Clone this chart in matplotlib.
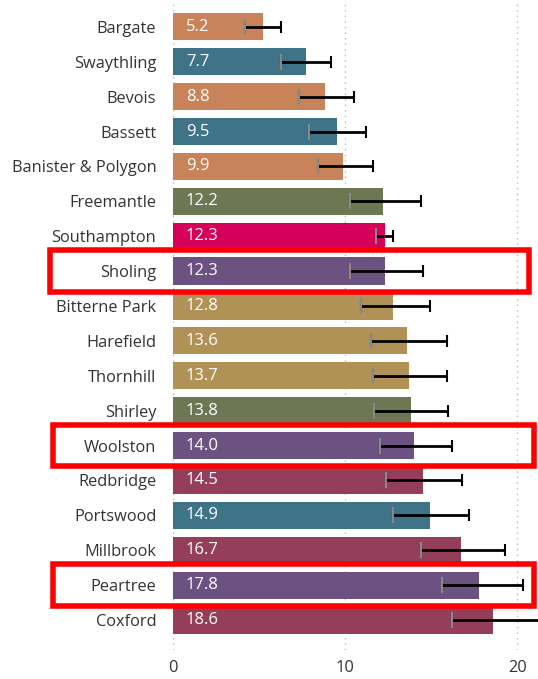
import matplotlib.pyplot as plt
from matplotlib.patches import Rectangle
import matplotlib.transforms as mtransforms

wards = ["Bargate", "Swaythling", "Bevois", "Bassett", "Banister & Polygon",
         "Freemantle", "Southampton", "Sholing", "Bitterne Park", "Harefield",
         "Thornhill", "Shirley", "Woolston", "Redbridge", "Portswood",
         "Millbrook", "Peartree", "Coxford"]
values = [5.2, 7.7, 8.8, 9.5, 9.9, 12.2, 12.3, 12.3, 12.8, 13.6,
          13.7, 13.8, 14.0, 14.5, 14.9, 16.7, 17.8, 18.6]
err_low = [4.2, 6.3, 7.3, 7.9, 8.4, 10.3, 11.8, 10.3, 10.9, 11.5,
           11.6, 11.7, 12.0, 12.4, 12.8, 14.4, 15.6, 16.2]
err_high = [6.3, 9.2, 10.5, 11.2, 11.6, 14.4, 12.8, 14.5, 14.9, 15.9,
            15.9, 16.0, 16.2, 16.8, 17.2, 19.3, 20.3, 21.6]
groups = ["orange", "teal", "orange", "teal", "orange", "olive", "pink", "purple",
          "gold", "gold", "gold", "olive", "purple", "maroon", "teal",
          "maroon", "purple", "maroon"]
highlight = ["Sholing", "Woolston", "Peartree"]

colours = {"orange": "#C98359", "teal": "#3E7388", "olive": "#6E7754",
           "pink": "#D4005A", "purple": "#6C5280", "gold": "#B09256",
           "maroon": "#943E5C"}

plt.rcParams['font.family'] = ['Open Sans', 'DejaVu Sans']

fig = plt.figure(figsize=(5.38, 6.79), dpi=100)
ax = fig.add_axes([0.3216, 0.0427, 0.6784, 0.9573])

y = list(range(len(wards)))
ax.barh(y, values, height=0.78, color=[colours[g] for g in groups], zorder=2)

xerr = [[v - l for v, l in zip(values, err_low)],
        [h - v for v, h in zip(values, err_high)]]
ax.errorbar(values, y, xerr=xerr, fmt='none', ecolor='black', elinewidth=2,
            capsize=4, capthick=1.5, zorder=3)
# ticks on the low end look grey-ish in the original
for yi, lo in zip(y, err_low):
    ax.plot([lo, lo], [yi - 0.2, yi + 0.2], color='#888888', lw=1.5, zorder=4)

for yi, v in zip(y, values):
    ax.text(0.75, yi, f"{v:.1f}", color='white', va='center', ha='left',
            fontsize=12, zorder=5)

ax.set_xlim(0, 21.2)
ax.set_ylim(len(wards) - 1 + 0.86, -0.77)
ax.set_yticks(y)
ax.set_yticklabels(wards, fontsize=11.8, color='#333333')
ax.set_xticks([0, 10, 20])
ax.tick_params(axis='x', length=0, pad=7, labelsize=11.8, labelcolor='#333333')
ax.tick_params(axis='y', length=0, pad=12)
ax.grid(axis='x', linestyle=(0, (1, 3)), color='#bbbbbb', lw=1, zorder=0)
for s in ax.spines.values():
    s.set_visible(False)

# red highlight boxes (x in figure coords, y in data coords)
trans = mtransforms.blended_transform_factory(fig.transFigure, ax.transData)
boxes_x = {"Sholing": (0.093, 0.890), "Woolston": (0.099, 0.893), "Peartree": (0.099, 0.893)}
for name in highlight:
    i = wards.index(name)
    x0, w = boxes_x[name]
    rect = Rectangle((x0, i + 0.6), w, -1.2, transform=trans,
                     fill=False, edgecolor='#FF0000', lw=4, clip_on=False, zorder=6)
    fig.add_artist(rect)

fig.savefig("out.png", dpi=100)
